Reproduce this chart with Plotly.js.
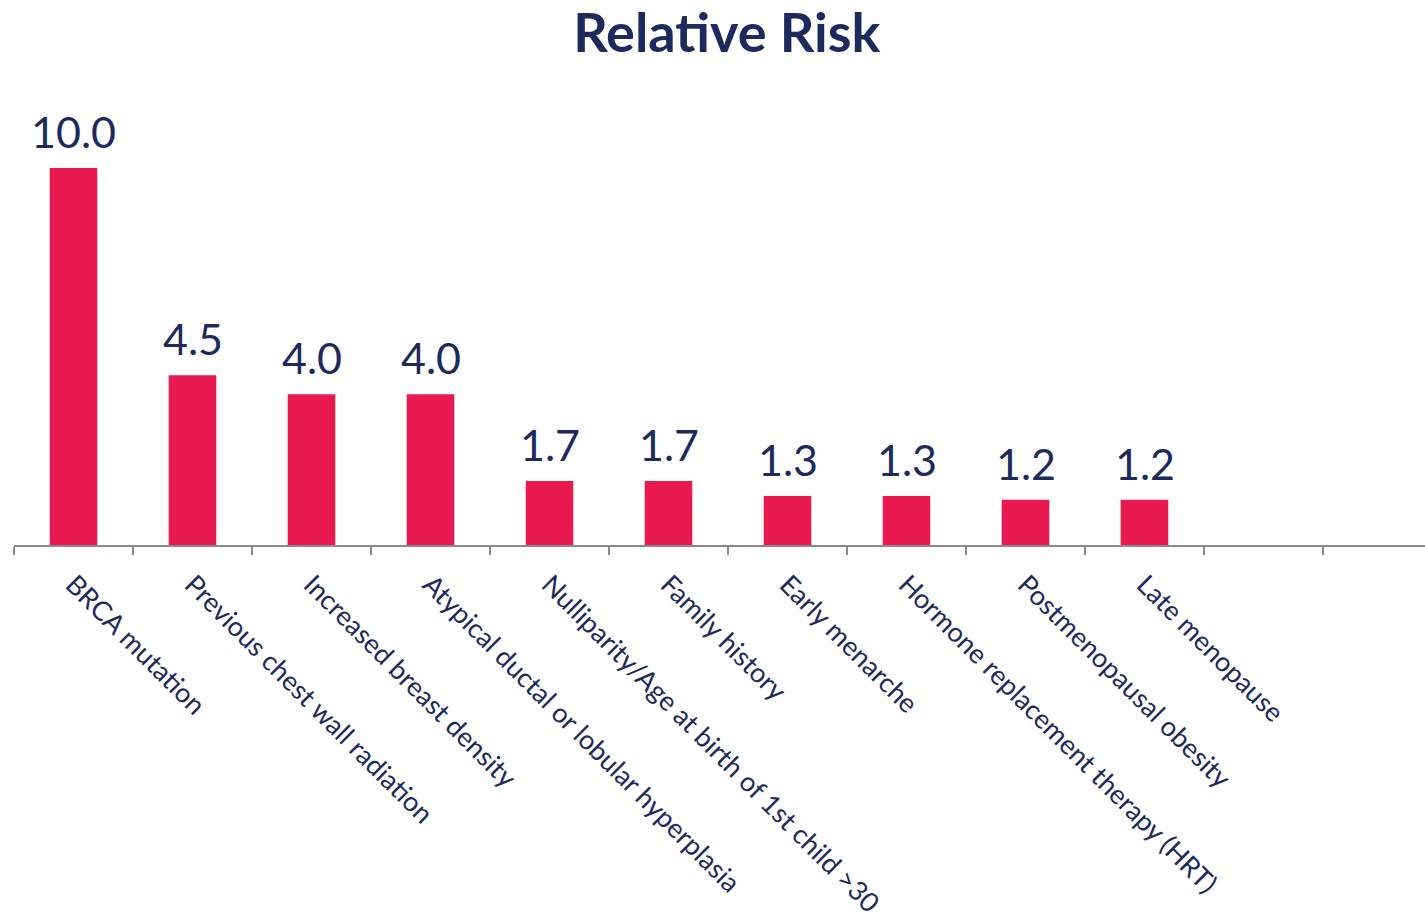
<!DOCTYPE html>
<html>
<head>
<meta charset="utf-8">
<script src="https://cdn.plot.ly/plotly-3.0.1.min.js"></script>
<style>html,body{margin:0;padding:0;background:#fff;}#chart{width:1425px;height:919px;}</style>
</head>
<body>
<div id="chart"></div>
<script>
const categories = [
  "BRCA mutation",
  "Previous chest wall radiation",
  "Increased breast density",
  "Atypical ductal or lobular hyperplasia",
  "Nulliparity/Age at birth of 1st child >30",
  "Family history",
  "Early menarche",
  "Hormone replacement therapy (HRT)",
  "Postmenopausal obesity",
  "Late menopause"
];
const relativeRisk = [10.0, 4.5, 4.0, 4.0, 1.7, 1.7, 1.3, 1.3, 1.2, 1.2];
const emptySlots = [" "];
const chartTitle = "Relative Risk";

const barColor = "#E91A50";
const textColor = "#1C2A5E";
const fontFam = "Lato, 'Open Sans', sans-serif";

const allCats = categories.concat(emptySlots);
const allVals = relativeRisk.concat(emptySlots.map(() => null));

const trace = {
  type: "bar",
  x: allCats,
  y: allVals,
  marker: { color: barColor },
  width: 0.4,
  hoverinfo: "x+y"
};

const annotations = categories.map((c, i) => ({
  x: c,
  y: relativeRisk[i],
  xref: "x",
  yref: "y",
  text: relativeRisk[i].toFixed(1),
  showarrow: false,
  yanchor: "bottom",
  yshift: 9,
  font: { family: fontFam, size: 43, color: textColor }
}));

const layout = {
  width: 1425,
  height: 919,
  margin: { l: 14, r: 0, t: 60, b: 374 },
  paper_bgcolor: "#fff",
  plot_bgcolor: "#fff",
  showlegend: false,
  title: {
    text: "<b>" + chartTitle + "</b>",
    font: { family: fontFam, size: 54, color: textColor },
    x: 0.51,
    xanchor: "center",
    y: 0.985,
    yanchor: "top"
  },
  xaxis: {
    type: "category",
    categoryorder: "array",
    categoryarray: allCats,
    range: [-0.5, (1425 - 14) / 119 - 0.5],
    tickson: "boundaries",
    ticks: "outside",
    ticklen: 8,
    tickwidth: 2,
    tickcolor: "#8a8a8a",
    showline: true,
    linecolor: "#8a8a8a",
    linewidth: 2,
    showgrid: false,
    zeroline: false,
    tickangle: 45,
    ticklabelstandoff: 11,
    tickfont: { family: fontFam, size: 27, color: textColor },
    fixedrange: true
  },
  yaxis: {
    range: [0, 12.865],
    visible: false,
    showgrid: false,
    zeroline: false,
    fixedrange: true
  },
  annotations: annotations
};

Plotly.newPlot("chart", [trace], layout, { displayModeBar: false, staticPlot: true });
</script>
</body>
</html>
